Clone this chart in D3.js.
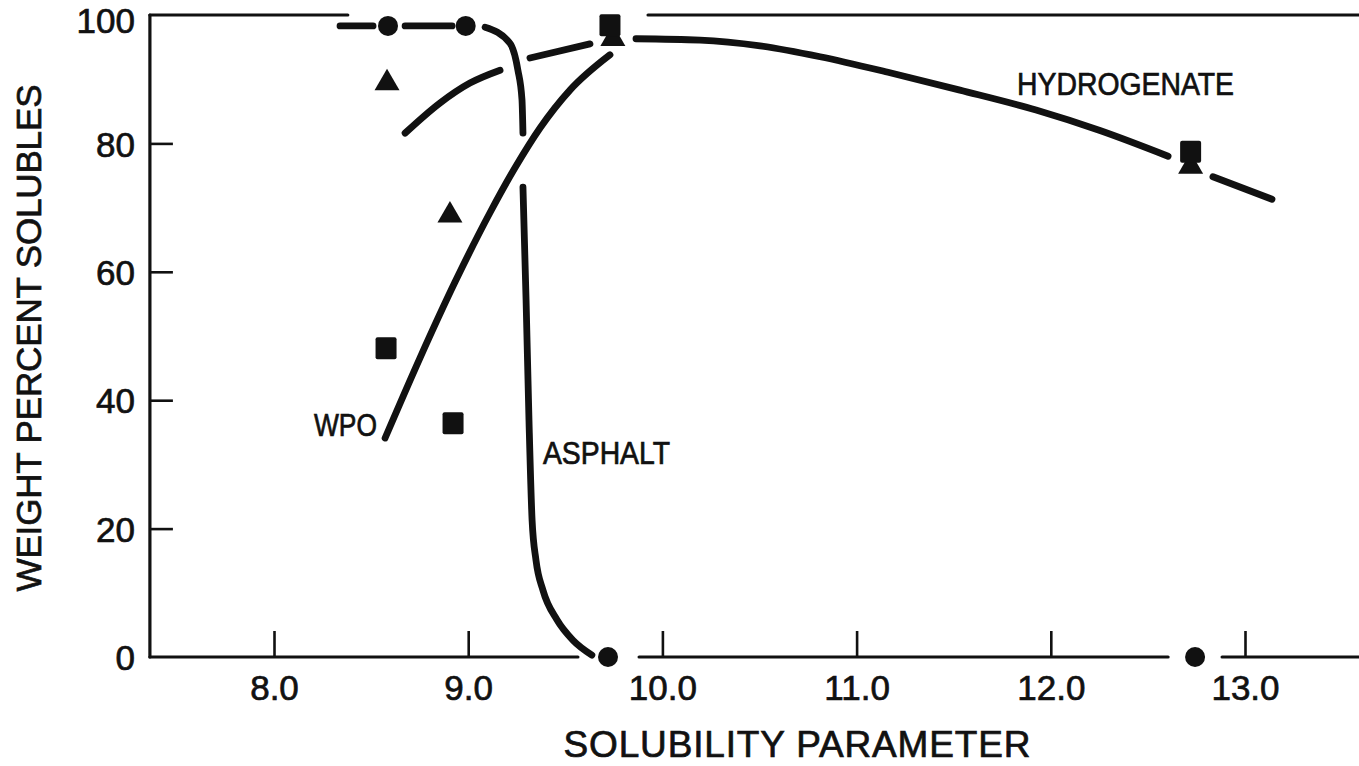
<!DOCTYPE html>
<html>
<head>
<meta charset="utf-8">
<script src="https://cdn.jsdelivr.net/npm/d3@7"></script>
<style>
  body { margin: 0; background: #fff; }
  svg { display: block; }
  text { font-family: "Liberation Sans", Arial, sans-serif; fill: #111; }
</style>
</head>
<body>
<svg id="chart" width="1359" height="766"></svg>
<script>
// ---- data -------------------------------------------------------------
const xTicks = [8, 9, 10, 11, 12, 13];
const yTicks = [0, 20, 40, 60, 80, 100];
const xTickLabels = ["8.0", "9.0", "10.0", "11.0", "12.0", "13.0"];

// measured points, by marker shape  [solubility parameter, wt % solubles]
const circleValues   = [[8.587, 98.3], [8.987, 98.3], [9.72, 0], [12.743, 0]];
const squareValues   = [[8.577, 48.1], [8.922, 36.4], [9.73, 98.4], [12.72, 78.7]];
const triangleValues = [[8.582, 89.4], [8.906, 68.8], [9.745, 96.3], [12.72, 76.4]];

// hand-faired curves, drawn as separate visible pieces
const asphaltCurve = [
  [[8.34, 98.3], [8.51, 98.3]],
  [[8.675, 98.3], [8.917, 98.3]],
  [[9.087, 98.1], [9.215, 95.6], [9.256, 91.4], [9.277, 86.8], [9.282, 81.6]],
  [[9.282, 73.2], [9.298, 55.6], [9.313, 36.9], [9.329, 21.3], [9.349, 15.1],
   [9.385, 10.4], [9.457, 5.8], [9.54, 2.6], [9.637, 0.3]]
];
const wpoCurve = [
  [[8.572, 34.1], [8.752, 46.6], [8.932, 58.4], [9.112, 69.2], [9.241, 76.2],
   [9.37, 82.4], [9.524, 88.3], [9.73, 93.8]]
];
const hydrogenateCurve = [
  [[8.675, 81.6], [8.855, 86.3], [9.009, 89.4], [9.164, 91.4]],
  [[9.318, 93.3], [9.627, 95.5]],
  [[9.864, 96.3], [10.194, 96.1], [10.503, 95.2], [10.812, 93.5], [11.172, 91.0],
   [11.532, 88.3], [11.924, 85.2], [12.253, 82.0], [12.604, 78.0]],
  [[12.835, 74.8], [13.139, 71.3]]
];

// axis frame pieces (x extents), broken where points sit on the frame
const bottomFrame = [[7.361, 9.565], [9.88, 12.604], [12.882, 13.6]];
const topFrame    = [[7.361, 8.38], [9.926, 13.6]];

const curveLabels = [
  { text: "WPO",         x: 8.53,   y: 36.1, anchor: "end",   len: 63 },
  { text: "ASPHALT",     x: 9.385,  y: 31.8, anchor: "start", len: 127 },
  { text: "HYDROGENATE", x: 11.826, y: 89.3, anchor: "start", len: 217 }
];

// ---- layout -----------------------------------------------------------
const ink = "#111";
const svg = d3.select("#chart");
const x = d3.scaleLinear().domain([8, 13]).range([274, 1245]);
const y = d3.scaleLinear().domain([0, 100]).range([657, 15]);

// frame lines
const frame = svg.append("g").attr("stroke", ink).attr("fill", "none")
  .attr("stroke-linecap", "round");
frame.append("line")
  .attr("x1", x(7.361)).attr("x2", x(7.361))
  .attr("y1", y(100)).attr("y2", y(0))
  .attr("stroke-width", 3.2);
frame.selectAll("line.bottom").data(bottomFrame).join("line")
  .attr("class", "bottom")
  .attr("x1", d => x(d[0])).attr("x2", d => x(d[1]))
  .attr("y1", y(0)).attr("y2", y(0))
  .attr("stroke-width", 3.2);
frame.selectAll("line.top").data(topFrame).join("line")
  .attr("class", "top")
  .attr("x1", d => x(d[0])).attr("x2", d => x(d[1]))
  .attr("y1", y(100)).attr("y2", y(100))
  .attr("stroke-width", 3.2);

// shared label styling: slightly heavy lettering
function letter(sel, size) {
  sel.attr("font-size", size)
    .attr("fill", ink)
    .attr("stroke", ink)
    .attr("stroke-width", 0.7)
    .attr("font-family", "'Liberation Sans', Arial, sans-serif");
}

// x axis: ticks pointing inward
const xAxis = d3.axisBottom(x)
  .tickValues(xTicks)
  .tickFormat((d, i) => xTickLabels[i])
  .tickSize(-26)
  .tickPadding(18);
const gx = svg.append("g").attr("transform", `translate(0,${y(0)})`).call(xAxis);
gx.select(".domain").remove();
gx.selectAll(".tick line").attr("stroke", ink).attr("stroke-width", 2.6);
gx.selectAll(".tick text").call(letter, 35);

// y axis: ticks pointing inward
const yAxis = d3.axisLeft(y)
  .tickValues(yTicks)
  .tickSize(-23)
  .tickPadding(15);
const gy = svg.append("g").attr("transform", `translate(${x(7.361)},0)`).call(yAxis);
gy.select(".domain").remove();
gy.selectAll(".tick line").attr("stroke", ink).attr("stroke-width", 2.6)
  .filter(d => d === 0 || d === 100).remove();
gy.selectAll(".tick text").call(letter, 35)
  .attr("dy", d => d === 100 ? "0.5em" : "0.36em");

// axis titles
svg.append("text")
  .attr("x", 797).attr("y", 757)
  .attr("text-anchor", "middle")
  .call(letter, 37)
  .attr("textLength", 467)
  .attr("lengthAdjust", "spacing")
  .text("SOLUBILITY  PARAMETER");
svg.append("text")
  .attr("transform", "translate(41,338) rotate(-90)")
  .attr("text-anchor", "middle")
  .call(letter, 35)
  .attr("textLength", 507)
  .attr("lengthAdjust", "spacing")
  .text("WEIGHT  PERCENT  SOLUBLES");

// curves
const line = d3.line()
  .x(d => x(d[0])).y(d => y(d[1]))
  .curve(d3.curveMonotoneX);
const curves = svg.append("g").attr("fill", "none").attr("stroke", ink)
  .attr("stroke-width", 6.8).attr("stroke-linecap", "round")
  .attr("stroke-linejoin", "round");
[asphaltCurve, wpoCurve, hydrogenateCurve].forEach(pieces => {
  curves.selectAll(null).data(pieces).join("path").attr("d", line);
});

// markers
const marks = svg.append("g").attr("fill", ink);
marks.selectAll("circle").data(circleValues).join("circle")
  .attr("cx", d => x(d[0])).attr("cy", d => y(d[1])).attr("r", 10);
marks.selectAll("path.tri").data(triangleValues).join("path")
  .attr("class", "tri")
  .attr("transform", d => `translate(${x(d[0])},${y(d[1])})`)
  .attr("d", d3.symbol(d3.symbolTriangle, 270));
marks.selectAll("rect").data(squareValues).join("rect")
  .attr("x", d => x(d[0]) - 10.5).attr("y", d => y(d[1]) - 11)
  .attr("width", 21).attr("height", 22).attr("rx", 2);

// curve labels
svg.selectAll("text.curve-label").data(curveLabels).join("text")
  .attr("class", "curve-label")
  .attr("x", d => x(d.x)).attr("y", d => y(d.y))
  .attr("dy", "0.36em")
  .attr("text-anchor", d => d.anchor)
  .call(letter, 31)
  .attr("textLength", d => d.len)
  .attr("lengthAdjust", "spacingAndGlyphs")
  .text(d => d.text);
</script>
</body>
</html>
